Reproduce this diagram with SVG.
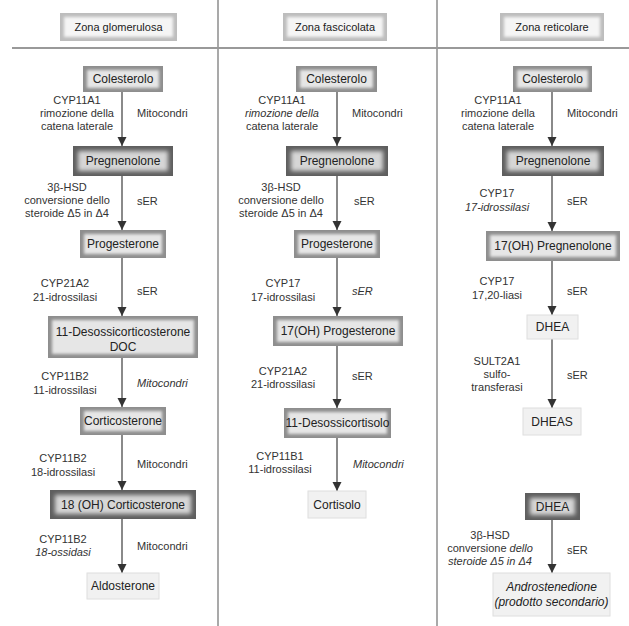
<svg xmlns="http://www.w3.org/2000/svg" width="629" height="626" viewBox="0 0 629 626">
<defs>
<style>
text{font-family:"Liberation Sans",Arial,sans-serif;fill:#222;}
.bt{font-size:12px;text-anchor:middle;}
.an{font-size:11px;text-anchor:middle;fill:#333;}
.loc{font-size:11px;fill:#333;}
.it{font-style:italic;}
.m0{fill:#8e8e8e;}.m2{fill:#e6e6e6;filter:url(#soft);}
.d0{fill:#5e5e5e;}.d2{fill:#d6d6d6;filter:url(#soft2);}
.l0{fill:#f1f1f1;stroke:#dedede;stroke-width:1;}
.h0{fill:#bdbdbd;}.h1{fill:#f5f5f5;filter:url(#soft);}
.sep{stroke:#8c8c8c;stroke-width:1.5;}
.ar{stroke:#8a8a8a;stroke-width:2;fill:none;marker-end:url(#ah);}
</style>
<filter id="soft" x="-10%" y="-30%" width="120%" height="160%"><feGaussianBlur stdDeviation="1.6"/></filter>
<filter id="soft2" x="-10%" y="-30%" width="120%" height="160%"><feGaussianBlur stdDeviation="2.2"/></filter>
<marker id="ah" viewBox="0 0 10 10" refX="10" refY="5" markerWidth="4.5" markerHeight="5" markerUnits="strokeWidth" orient="auto">
<path d="M0,0 L10,5 L0,10 z" fill="#333"/>
</marker>
</defs>
<rect x="0" y="0" width="629" height="626" fill="#fff"/>
<g id="grid">
<line class="sep" x1="218" y1="0" x2="218" y2="626"/>
<line class="sep" x1="437" y1="0" x2="437" y2="626"/>
<line x1="12" y1="48" x2="629" y2="48" stroke="#999" stroke-width="2"/>
</g>
<g id="connectors">
<line class="ar" x1="122" y1="92" x2="122" y2="146"/>
<line class="ar" x1="122" y1="176" x2="122" y2="230"/>
<line class="ar" x1="122" y1="258" x2="122" y2="316"/>
<line class="ar" x1="122" y1="358" x2="122" y2="407"/>
<line class="ar" x1="122" y1="435" x2="122" y2="490"/>
<line class="ar" x1="122" y1="519" x2="122" y2="573"/>
<line class="ar" x1="337" y1="92" x2="337" y2="146"/>
<line class="ar" x1="337" y1="176" x2="337" y2="230"/>
<line class="ar" x1="337" y1="258" x2="337" y2="316"/>
<line class="ar" x1="337" y1="346" x2="337" y2="408"/>
<line class="ar" x1="337" y1="438" x2="337" y2="491"/>
<line class="ar" x1="552" y1="92" x2="552" y2="146"/>
<line class="ar" x1="552" y1="176" x2="552" y2="231"/>
<line class="ar" x1="552" y1="261" x2="552" y2="315"/>
<line class="ar" x1="552" y1="339" x2="552" y2="408"/>
<line class="ar" x1="552" y1="520" x2="552" y2="573"/>
</g>
<g id="header-glomerulosa">
<rect class="h0" x="60" y="13" width="117" height="28"/><rect class="h1" x="64" y="17" width="109" height="20"/>
<text class="bt" x="118.5" y="31" style="font-size:11px">Zona glomerulosa</text>
</g>
<g id="header-fascicolata">
<rect class="h0" x="283" y="13" width="104" height="28"/><rect class="h1" x="287" y="17" width="96" height="20"/>
<text class="bt" x="335" y="31" style="font-size:11px">Zona fascicolata</text>
</g>
<g id="header-reticolare">
<rect class="h0" x="500" y="13" width="104" height="28"/><rect class="h1" x="504" y="17" width="96" height="20"/>
<text class="bt" x="552" y="31" style="font-size:11px">Zona reticolare</text>
</g>
<!-- Column 1 -->
<g id="c1-colesterolo">
<rect class="m0" x="83" y="66" width="80" height="26"/><rect class="m2" x="87" y="70" width="72" height="18"/>
<text class="bt" x="123" y="83">Colesterolo</text>
</g>
<g id="c1-step1">
<text class="an" x="77" y="104">CYP11A1</text>
<text class="an" x="77" y="117">rimozione della</text>
<text class="an" x="77" y="130">catena laterale</text>
<text class="loc" x="137" y="117">Mitocondri</text>
</g>
<g id="c1-pregnenolone">
<rect class="d0" x="73" y="146" width="100" height="30"/><rect class="d2" x="78" y="151" width="90" height="20"/>
<text class="bt" x="123" y="165">Pregnenolone</text>
</g>
<g id="c1-step2">
<text class="an" x="67" y="191">3β-HSD</text>
<text class="an" x="67" y="204">conversione dello</text>
<text class="an" x="67" y="217">steroide Δ5 in Δ4</text>
<text class="loc" x="137" y="205">sER</text>
</g>
<g id="c1-progesterone">
<rect class="m0" x="80" y="230" width="86" height="28"/><rect class="m2" x="84" y="234" width="78" height="20"/>
<text class="bt" x="123" y="248">Progesterone</text>
</g>
<g id="c1-step3">
<text class="an" x="65" y="287">CYP21A2</text>
<text class="an" x="65" y="301">21-idrossilasi</text>
<text class="loc" x="137" y="295">sER</text>
</g>
<g id="c1-doc">
<rect class="m0" x="48" y="316" width="150" height="42"/><rect class="m2" x="52" y="320" width="142" height="34"/>
<text class="bt" x="123" y="336">11-Desossicorticosterone</text>
<text class="bt" x="123" y="351">DOC</text>
</g>
<g id="c1-step4">
<text class="an" x="65" y="380">CYP11B2</text>
<text class="an" x="65" y="394">11-idrossilasi</text>
<text class="loc it" x="137" y="387">Mitocondri</text>
</g>
<g id="c1-corticosterone">
<rect class="m0" x="80" y="407" width="86" height="28"/><rect class="m2" x="84" y="411" width="78" height="20"/>
<text class="bt" x="123" y="425">Corticosterone</text>
</g>
<g id="c1-step5">
<text class="an" x="63" y="462">CYP11B2</text>
<text class="an" x="63" y="476">18-idrossilasi</text>
<text class="loc" x="137" y="468">Mitocondri</text>
</g>
<g id="c1-18oh">
<rect class="d0" x="50" y="490" width="146" height="29"/><rect class="d2" x="55" y="495" width="136" height="19"/>
<text class="bt" x="123" y="509">18 (OH) Corticosterone</text>
</g>
<g id="c1-step6">
<text class="an" x="63" y="543">CYP11B2</text>
<text class="an it" x="63" y="556">18-ossidasi</text>
<text class="loc" x="137" y="550">Mitocondri</text>
</g>
<g id="c1-aldosterone">
<rect class="l0" x="87" y="573" width="72" height="26"/>
<text class="bt" x="123" y="590">Aldosterone</text>
</g>
<!-- Column 2 -->
<g id="c2-colesterolo">
<rect class="m0" x="296" y="66" width="81" height="26"/><rect class="m2" x="300" y="70" width="73" height="18"/>
<text class="bt" x="336.5" y="83">Colesterolo</text>
</g>
<g id="c2-step1">
<text class="an" x="282" y="104">CYP11A1</text>
<text class="an it" x="282" y="117">rimozione della</text>
<text class="an" x="282" y="130">catena laterale</text>
<text class="loc" x="352" y="117">Mitocondri</text>
</g>
<g id="c2-pregnenolone">
<rect class="d0" x="286" y="146" width="102" height="30"/><rect class="d2" x="291" y="151" width="92" height="20"/>
<text class="bt" x="337" y="165">Pregnenolone</text>
</g>
<g id="c2-step2">
<text class="an" x="281" y="191">3β-HSD</text>
<text class="an" x="281" y="204">conversione dello</text>
<text class="an" x="281" y="217">steroide Δ5 in Δ4</text>
<text class="loc" x="354" y="205">sER</text>
</g>
<g id="c2-progesterone">
<rect class="m0" x="294" y="230" width="86" height="28"/><rect class="m2" x="298" y="234" width="78" height="20"/>
<text class="bt" x="337" y="248">Progesterone</text>
</g>
<g id="c2-step3">
<text class="an" x="283" y="287">CYP17</text>
<text class="an" x="283" y="301">17-idrossilasi</text>
<text class="loc it" x="352" y="295">sER</text>
</g>
<g id="c2-17ohprog">
<rect class="m0" x="273" y="316" width="130" height="30"/><rect class="m2" x="277" y="320" width="122" height="22"/>
<text class="bt" x="338" y="335">17(OH) Progesterone</text>
</g>
<g id="c2-step4">
<text class="an" x="283" y="375">CYP21A2</text>
<text class="an" x="283" y="388">21-idrossilasi</text>
<text class="loc" x="352" y="380">sER</text>
</g>
<g id="c2-desossicortisolo">
<rect class="m0" x="284" y="408" width="107" height="30"/><rect class="m2" x="288" y="412" width="99" height="22"/>
<text class="bt" x="337.5" y="427">11-Desossicortisolo</text>
</g>
<g id="c2-step5">
<text class="an" x="280" y="460">CYP11B1</text>
<text class="an" x="280" y="473">11-idrossilasi</text>
<text class="loc it" x="353" y="468">Mitocondri</text>
</g>
<g id="c2-cortisolo">
<rect class="l0" x="308" y="491" width="58" height="27"/>
<text class="bt" x="337" y="509">Cortisolo</text>
</g>
<!-- Column 3 -->
<g id="c3-colesterolo">
<rect class="m0" x="513" y="66" width="79" height="26"/><rect class="m2" x="517" y="70" width="71" height="18"/>
<text class="bt" x="552.5" y="83">Colesterolo</text>
</g>
<g id="c3-step1">
<text class="an" x="498" y="104">CYP11A1</text>
<text class="an" x="498" y="117">rimozione della</text>
<text class="an" x="498" y="130">catena laterale</text>
<text class="loc" x="567" y="117">Mitocondri</text>
</g>
<g id="c3-pregnenolone">
<rect class="d0" x="502" y="146" width="102" height="30"/><rect class="d2" x="507" y="151" width="92" height="20"/>
<text class="bt" x="553" y="165">Pregnenolone</text>
</g>
<g id="c3-step2">
<text class="an" x="497" y="197">CYP17</text>
<text class="an it" x="497" y="211">17-idrossilasi</text>
<text class="loc" x="567" y="205">sER</text>
</g>
<g id="c3-17ohpreg">
<rect class="m0" x="486" y="231" width="134" height="30"/><rect class="m2" x="490" y="235" width="126" height="22"/>
<text class="bt" x="553" y="250">17(OH) Pregnenolone</text>
</g>
<g id="c3-step3">
<text class="an" x="497" y="285">CYP17</text>
<text class="an" x="497" y="299">17,20-liasi</text>
<text class="loc" x="567" y="295">sER</text>
</g>
<g id="c3-dhea1">
<rect class="l0" x="527" y="315" width="51" height="24"/>
<text class="bt" x="552.5" y="331">DHEA</text>
</g>
<g id="c3-step4">
<text class="an" x="497" y="365">SULT2A1</text>
<text class="an" x="497" y="378">sulfo-</text>
<text class="an" x="497" y="391">transferasi</text>
<text class="loc" x="567" y="379">sER</text>
</g>
<g id="c3-dheas">
<rect class="l0" x="523" y="408" width="58" height="27"/>
<text class="bt" x="552" y="426">DHEAS</text>
</g>
<g id="c3-dhea2">
<rect class="d0" x="525" y="493" width="55" height="27"/><rect class="d2" x="530" y="498" width="45" height="17"/>
<text class="bt" x="552.5" y="511">DHEA</text>
</g>
<g id="c3-step5">
<text class="an" x="490" y="539">3β-HSD</text>
<text class="an" x="490" y="552">conversione <tspan class="it">dello</tspan></text>
<text class="an it" x="490" y="565">steroide Δ5 in Δ4</text>
<text class="loc" x="567" y="554">sER</text>
</g>
<g id="c3-androstenedione">
<rect class="l0" x="493" y="573" width="117" height="43"/>
<text class="bt it" x="551.5" y="591">Androstenedione</text>
<text class="bt it" x="551.5" y="606">(prodotto secondario)</text>
</g>
</svg>
